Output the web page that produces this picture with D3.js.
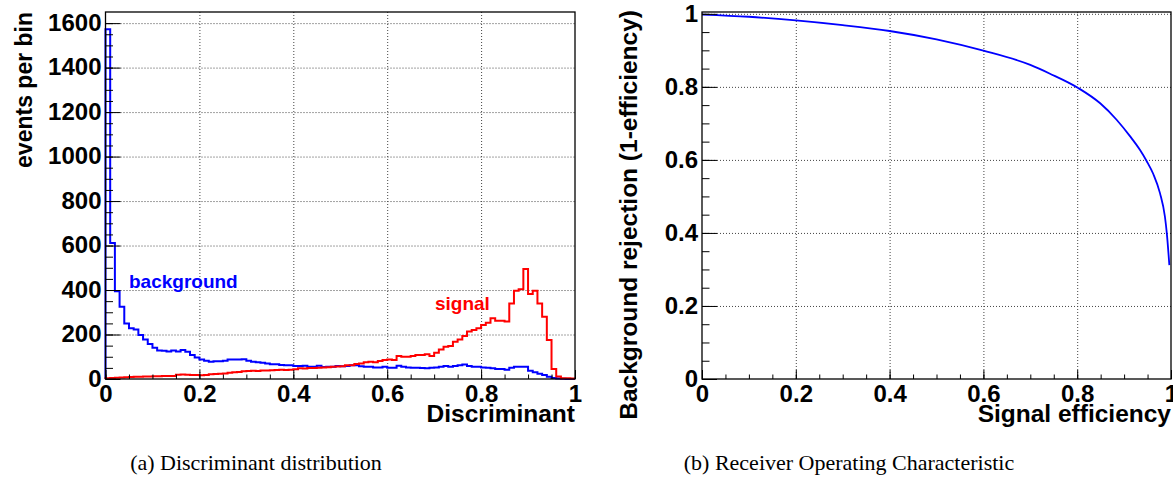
<!DOCTYPE html>
<html>
<head>
<meta charset="utf-8">
<script src="https://cdn.jsdelivr.net/npm/d3@7"></script>
<style>
    body { margin: 0; background: #fff; }
    .tick text { font-family: "Liberation Sans", Arial, sans-serif; font-weight: bold; font-size: 24px; fill: #000; }
    .tick line { stroke: #000; }
    .grid line { stroke: #444; stroke-dasharray: 1, 2; }
    .title { font-family: "Liberation Sans", Arial, sans-serif; font-weight: bold; font-size: 24.5px; fill: #000; }
    .caption { font-family: "Liberation Serif", "Times New Roman", serif; font-size: 22px; fill: #000; }
</style>
</head>
<body>
<script>
// Discriminant histograms (100 bins between 0 and 1) and the ROC curve

var backgroundCounts = [
    1573, 612, 395, 325, 250, 228, 222, 198, 178, 157,
    141, 128, 127, 124, 128, 124, 130, 122, 108, 97,
    88, 82, 78, 80, 80, 82, 88, 88, 88, 89,
    82, 78, 75, 73, 70, 66, 66, 63, 62, 62,
    58, 58, 60, 55, 55, 60, 54, 55, 55, 58,
    57, 59, 62, 62, 57, 55, 55, 52, 52, 55,
    51, 51, 60, 55, 52, 51, 51, 50, 48, 51,
    52, 55, 58, 55, 58, 62, 65, 58, 55, 55,
    52, 51, 48, 45, 45, 42, 51, 55, 55, 55,
    37, 30, 24, 18, 10, 5, 2, 1, 0, 0
];

var signalCounts = [
    3, 5, 6, 7, 8, 9, 10, 10, 11, 11,
    12, 12, 13, 13, 14, 19, 20, 19, 18, 18,
    17, 18, 21, 22, 24, 25, 28, 30, 31, 35,
    36, 37, 36, 38, 38, 39, 40, 42, 41, 42,
    44, 48, 47, 49, 50, 51, 52, 53, 55, 56,
    57, 62, 62, 67, 70, 75, 78, 75, 81, 85,
    88, 85, 103, 100, 100, 103, 108, 108, 111, 103,
    118, 133, 145, 148, 168, 178, 193, 213, 220, 228,
    243, 253, 273, 262, 262, 258, 340, 397, 404, 494,
    382, 397, 340, 280, 175, 45, 11, 3, 3, 2
];

var rocEfficiency = [0, 0.1, 0.2, 0.3, 0.4, 0.5, 0.6, 0.7, 0.742, 0.802, 0.849, 0.884, 0.9125, 0.934, 0.948, 0.962, 0.9765, 0.987, 0.991, 0.9965];
var rocRejection = [0.998, 0.992, 0.982, 0.969, 0.953, 0.93, 0.899, 0.86, 0.836, 0.797, 0.755, 0.71, 0.665, 0.627, 0.597, 0.562, 0.509, 0.445, 0.40, 0.312];

var unitTicks = [0, 0.2, 0.4, 0.6, 0.8, 1];
var unitMinor = d3.range(0, 1.0001, 0.05);
var countTicks = [0, 200, 400, 600, 800, 1000, 1200, 1400, 1600];
var countMinor = d3.range(0, 1650, 50);

var svg = d3.select("body")
    .append("svg")
    .attr("width", 1173)
    .attr("height", 482);

function unitFormat(d) {
    return (d === 0 || d === 1) ? String(d) : d.toFixed(1);
}

// ---------- left panel: discriminant distribution ----------
var x1 = d3.scaleLinear().domain([0, 1]).range([105.5, 575]);
var y1 = d3.scaleLinear().domain([0, 1650]).range([379, 12]);

// grid
svg.append("g")
    .attr("class", "grid")
    .attr("transform", "translate(0,379)")
    .call(d3.axisBottom(x1).tickValues([0.2, 0.4, 0.6, 0.8]).tickSize(-367).tickFormat(""))
    .select(".domain").remove();
svg.append("g")
    .attr("class", "grid")
    .attr("transform", "translate(105.5,0)")
    .call(d3.axisLeft(y1).tickValues(countTicks.slice(1)).tickSize(-469.5).tickFormat(""))
    .select(".domain").remove();

// histograms
var stepLine = d3.line().curve(d3.curveStepAfter);
function histPoints(counts) {
    var pts = [[x1(0), y1(0)]];
    counts.forEach(function (c, i) { pts.push([x1(i / counts.length), y1(c)]); });
    pts.push([x1(1), y1(counts[counts.length - 1])]);
    pts.push([x1(1), y1(0)]);
    return pts;
}
svg.append("path")
    .attr("d", stepLine(histPoints(backgroundCounts)))
    .style("fill", "none")
    .style("stroke", "#0000ff")
    .style("stroke-width", 2);
svg.append("path")
    .attr("d", stepLine(histPoints(signalCounts)))
    .style("fill", "none")
    .style("stroke", "#ff0000")
    .style("stroke-width", 2);

// axes with inward ticks
svg.append("g")
    .attr("transform", "translate(0,379)")
    .call(d3.axisBottom(x1).tickValues(unitMinor).tickSize(-4.5).tickFormat(""))
    .select(".domain").remove();
svg.append("g")
    .attr("transform", "translate(0,379)")
    .call(d3.axisBottom(x1).tickValues(unitTicks).tickSizeInner(-9).tickSizeOuter(0).tickPadding(6).tickFormat(unitFormat))
    .select(".domain").remove();
svg.append("g")
    .attr("transform", "translate(105.5,0)")
    .call(d3.axisLeft(y1).tickValues(countMinor).tickSize(-7.5).tickFormat(""))
    .select(".domain").remove();
svg.append("g")
    .attr("transform", "translate(105.5,0)")
    .call(d3.axisLeft(y1).tickValues(countTicks).tickSizeInner(-15).tickSizeOuter(0).tickPadding(4).tickFormat(d3.format("d")))
    .call(g => g.selectAll(".tick text").attr("dy", "0.3em"))
    .select(".domain").remove();

svg.append("rect")
    .attr("x", 105.5).attr("y", 12)
    .attr("width", 469.5).attr("height", 367)
    .style("fill", "none").style("stroke", "#000").style("stroke-width", 1.3);

svg.append("text")
    .attr("class", "title")
    .attr("x", 129).attr("y", 288)
    .style("fill", "#0000ff").style("font-size", "19px")
    .text("background");
svg.append("text")
    .attr("class", "title")
    .attr("x", 435).attr("y", 310)
    .style("fill", "#ff0000").style("font-size", "19px")
    .text("signal");

svg.append("text")
    .attr("class", "title")
    .attr("text-anchor", "end")
    .attr("x", 575).attr("y", 422)
    .text("Discriminant");
svg.append("text")
    .attr("class", "title")
    .attr("text-anchor", "end")
    .attr("transform", "translate(32,12) rotate(-90)")
    .style("font-size", "23px")
    .text("events per bin");

// ---------- right panel: ROC curve ----------
var x2 = d3.scaleLinear().domain([0, 1]).range([702, 1171]);
var y2 = d3.scaleLinear().domain([0, 1.005]).range([379, 12]);

svg.append("g")
    .attr("class", "grid")
    .attr("transform", "translate(0,379)")
    .call(d3.axisBottom(x2).tickValues([0.2, 0.4, 0.6, 0.8]).tickSize(-367).tickFormat(""))
    .select(".domain").remove();
svg.append("g")
    .attr("class", "grid")
    .attr("transform", "translate(702,0)")
    .call(d3.axisLeft(y2).tickValues(unitTicks.slice(1)).tickSize(-469).tickFormat(""))
    .select(".domain").remove();

var rocLine = d3.line()
    .x(d => x2(d[0]))
    .y(d => y2(d[1]))
    .curve(d3.curveMonotoneX);
svg.append("path")
    .datum(rocEfficiency.map((e, i) => [e, rocRejection[i]]))
    .attr("d", rocLine)
    .style("fill", "none")
    .style("stroke", "#0000ff")
    .style("stroke-width", 1.8);

svg.append("g")
    .attr("transform", "translate(0,379)")
    .call(d3.axisBottom(x2).tickValues(unitMinor).tickSize(-4.5).tickFormat(""))
    .select(".domain").remove();
svg.append("g")
    .attr("transform", "translate(0,379)")
    .call(d3.axisBottom(x2).tickValues(unitTicks).tickSizeInner(-9).tickSizeOuter(0).tickPadding(6).tickFormat(unitFormat))
    .select(".domain").remove();
svg.append("g")
    .attr("transform", "translate(702,0)")
    .call(d3.axisLeft(y2).tickValues(unitMinor).tickSize(-7.5).tickFormat(""))
    .select(".domain").remove();
svg.append("g")
    .attr("transform", "translate(702,0)")
    .call(d3.axisLeft(y2).tickValues(unitTicks).tickSizeInner(-15).tickSizeOuter(0).tickPadding(4).tickFormat(unitFormat))
    .call(g => g.selectAll(".tick text").attr("dy", "0.3em"))
    .select(".domain").remove();

svg.append("rect")
    .attr("x", 702).attr("y", 12)
    .attr("width", 469).attr("height", 367)
    .style("fill", "none").style("stroke", "#000").style("stroke-width", 1.3);

svg.append("text")
    .attr("class", "title")
    .attr("text-anchor", "end")
    .attr("x", 1171).attr("y", 422)
    .text("Signal efficiency");
svg.append("text")
    .attr("class", "title")
    .attr("text-anchor", "end")
    .attr("transform", "translate(637,10) rotate(-90)")
    .text("Background rejection (1-efficiency)");

// ---------- captions ----------
svg.append("text")
    .attr("class", "caption")
    .attr("text-anchor", "middle")
    .attr("x", 256).attr("y", 470)
    .text("(a)  Discriminant distribution");
svg.append("text")
    .attr("class", "caption")
    .attr("text-anchor", "middle")
    .attr("x", 849).attr("y", 470)
    .text("(b)  Receiver Operating Characteristic");
</script>
</body>
</html>
